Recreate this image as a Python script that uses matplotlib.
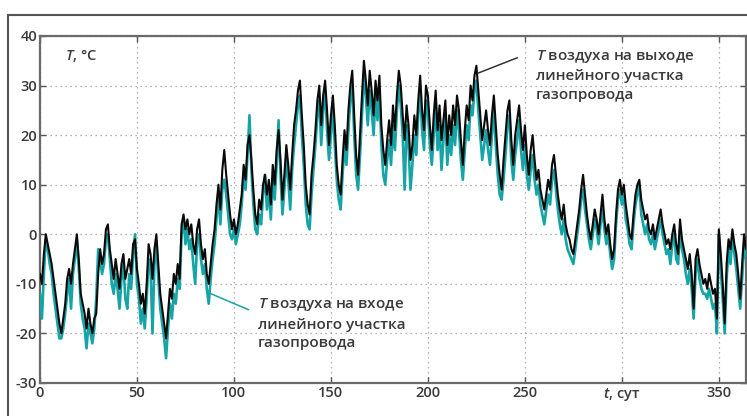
import matplotlib.pyplot as plt
from matplotlib.lines import Line2D

plt.rcParams['font.family'] = ['Open Sans', 'DejaVu Sans']
plt.rcParams['font.weight'] = 'semibold'
plt.rcParams['mathtext.fontset'] = 'custom'
plt.rcParams['mathtext.it'] = 'Open Sans:italic:semibold'
plt.rcParams['mathtext.rm'] = 'Open Sans:semibold'
plt.rcParams['axes.unicode_minus'] = False

# daily air temperature, outlet of the pipeline section (black)
t_out = [
    -8, -10, -4, 0, -2, -4, -6, -9, -12, -15,
    -18, -20, -17, -14, -9, -7, -10, -6, -3, 0,
    -5, -12, -14, -16, -19, -15, -18, -20, -17, -16,
    -8, -3, -6, -4, 1, 2, -3, -6, -9, -5,
    -8, -11, -6, -4, -9, -7, -5, -8, -2, -1,
    -7, -10, -14, -12, -16, -10, -2, -4, -9, -3,
    0, -6, -12, -15, -18, -21, -16, -11, -13, -8,
    -10, -6, -9, 2, 4, 1, 3, 0, 2, -2,
    -4, 1, 3, -2, -5, -3, -8, -10, -6, -2,
    1, 6, 10, 5, 13, 17, 12, 8, 4, 1,
    3, 0, 2, 5, 8, 14, 11, 18, 20, 15,
    9, 4, 2, 7, 5, 10, 12, 8, 11, 6,
    14, 10, 17, 21, 15, 7, 12, 18, 14, 9,
    16, 22, 25, 29, 31, 24, 18, 10, 6, 4,
    12, 16, 21, 27, 30, 22, 28, 31, 25, 18,
    24, 28, 22, 14, 10, 8, 15, 21, 17, 25,
    30, 33, 24, 16, 12, 20, 28, 35, 31, 26,
    33, 29, 24, 31, 27, 32, 22, 17, 14, 19,
    23, 18, 26, 21, 28, 33, 30, 24, 19, 26,
    22, 15, 18, 24, 20, 27, 32, 25, 21, 30,
    28, 22, 17, 24, 29, 21, 26, 19, 23, 27,
    18, 24, 20, 26, 22, 28, 25, 19, 14, 21,
    26, 23, 30, 27, 32, 34, 29, 24, 19, 22,
    25, 21, 18, 24, 28, 22, 16, 12, 9, 15,
    20, 25, 27, 19, 14, 20, 23, 26, 21, 17,
    22, 16, 12, 17, 20, 15, 11, 13, 9, 7,
    5, 8, 11, 9, 14, 16, 12, 8, 5, 3,
    6, 2, 0, -1, -3, -4, -1, 2, 5, 9,
    12, 8, 4, 1, -1, 2, 5, 3, 0, 4,
    8, 3, 0, 2, -2, -5, -3, 4, 9, 11,
    8, 10, 6, 3, 0, -1, 4, 8, 10, 11,
    7, 5, 3, 4, 1, 0, 2, -1, 1, 3,
    5, 2, 0, -2, -1, -3, 0, 2, -2, -4,
    3, -1, -3, -5, -7, -4, -8, -15, -5, -3,
    -6, -8, -10, -9, -11, -8, -10, -12, -11, -17,
    1, -4, -10, -18, -6, -1, -3, 1, -2, -4,
    -8, -13, -6, 0, -3, -2,
]

# daily air temperature, inlet of the pipeline section (teal)
t_in = [
    -12, -17, -8, -1, -3, -6, -8, -12, -15, -18,
    -21, -21, -19, -16, -12, -9, -15, -8, -5, -1,
    -7, -14, -17, -19, -23, -18, -20, -22, -19, -13,
    -3, -5, -8, -6, -1, 0, -5, -10, -12, -8,
    -11, -15, -9, -6, -13, -15, -8, -11, -4, 0,
    -10, -13, -18, -15, -19, -13, -5, -7, -20, -6,
    -2, -9, -15, -18, -21, -25, -19, -14, -17, -12,
    -14, -9, -11, 0, 3, -2, 1, -3, -1, -6,
    -10, -2, 0, -5, -8, -6, -11, -14, -9, -5,
    -2, 3, 8, 2, 9, 11, 8, 4, 0, -1,
    1, -2, 0, 2, 6, 12, 9, 16, 24, 13,
    6, 1, 0, 4, 2, 8, 12, 5, 9, 3,
    11, 7, 14, 23, 12, 4, 9, 15, 11, 5,
    13, 18, 22, 26, 28, 20, 14, 6, 2, 1,
    8, 13, 18, 24, 27, 18, 25, 29, 21, 15,
    20, 25, 18, 11, 7, 5, 12, 18, 14, 21,
    27, 30, 20, 12, 9, 16, 24, 32, 28, 22,
    29, 25, 20, 28, 23, 29, 18, 12, 10, 15,
    19, 14, 22, 17, 25, 30, 26, 20, 9, 22,
    18, 9, 14, 20, 16, 24, 29, 21, 17, 27,
    25, 18, 14, 20, 26, 17, 22, 13, 19, 24,
    14, 20, 16, 22, 18, 25, 21, 15, 11, 17,
    22, 19, 26, 24, 29, 31, 25, 20, 15, 18,
    21, 17, 14, 20, 25, 18, 12, 8, 7, 11,
    16, 22, 24, 15, 11, 16, 19, 23, 17, 13,
    18, 12, 9, 13, 16, 11, 8, 10, 6, 4,
    2, 5, 8, 6, 11, 13, 9, 5, 2, 0,
    3, -1, -3, -4, -5, -6, -3, 0, 3, 7,
    9, 5, 2, -1, -3, 0, 3, 1, -2, 2,
    5, 1, -2, 0, -4, -7, -5, 2, 7, 9,
    6, 8, 3, 1, -2, -3, 2, 6, 8, 10,
    4, 2, 0, 2, -1, -2, 0, -3, -1, 1,
    3, 0, -2, -4, -3, -6, -2, 0, -5, -6,
    1, -3, -5, -8, -10, -7, -11, -17, -8, -5,
    -9, -11, -12, -12, -13, -11, -13, -15, -14, -20,
    0, -7, -13, -20, -9, -3, -6, 0, -4, -7,
    -11, -15, -9, -2, -5, -4,
]

days = list(range(len(t_out)))

xticks = [0, 50, 100, 150, 200, 250, 300, 350]
xtick_labels = ['0', '50', '100', '150', '200', '250', r'$\it{t}$, сут', '350']
yticks = [-30, -20, -10, 0, 10, 20, 30, 40]

teal = '#17a4a6'
txt_col = '#3a3a3a'

fig = plt.figure(figsize=(7.47, 4.16), dpi=100)
ax = fig.add_axes([40 / 747, 1 - 383 / 416, 706 / 747, 347 / 416])

ax.plot(days, t_in, color=teal, lw=1.9, zorder=3)
ax.plot(days, t_out, color='#0a0a0a', lw=1.5, zorder=4)

ax.set_xlim(0, 364)
ax.set_ylim(-30, 40)
ax.set_xticks(xticks)
ax.set_xticklabels(xtick_labels)
ax.set_yticks(yticks)
ax.grid(True, color='#9a9a9a', lw=0.9, linestyle=(0, (1, 3)))
ax.tick_params(direction='in', length=4, width=1, colors='#555555',
               labelcolor=txt_col, labelsize=10.5, top=True, right=True, pad=2)
for s in ax.spines.values():
    s.set_color('#6a6a6a')
    s.set_linewidth(1.6)

ax.text(13, 36, r'$\it{T}$, °C', fontsize=10.5, color=txt_col, va='center', ha='left')

# annotations
ax.plot([225.8, 246.0], [32.5, 35.6], color='#333333', lw=1.1, zorder=5)
ax.text(255.5, 37.6, r'$\it{T}$ воздуха на выходе' + '\nлинейного участка\nгазопровода',
        fontsize=11, color=txt_col, va='top', ha='left', linespacing=1.4, zorder=6)

ax.plot([87.6, 107.4], [-11.9, -15.2], color=teal, lw=1.1, zorder=5)
ax.text(112.4, -12.5, r'$\it{T}$ воздуха на входе' + '\nлинейного участка\nгазопровода',
        fontsize=11, color=txt_col, va='top', ha='left', linespacing=1.4, zorder=6)

# outer frame of the figure panel
fig.add_artist(Line2D([8 / 747, 8 / 747], [0, 1 - 15 / 416], color='#555555', lw=1.5))
fig.add_artist(Line2D([8 / 747, 1], [1 - 15 / 416, 1 - 15 / 416], color='#555555', lw=1.5))

fig.savefig('out.png', dpi=100)
